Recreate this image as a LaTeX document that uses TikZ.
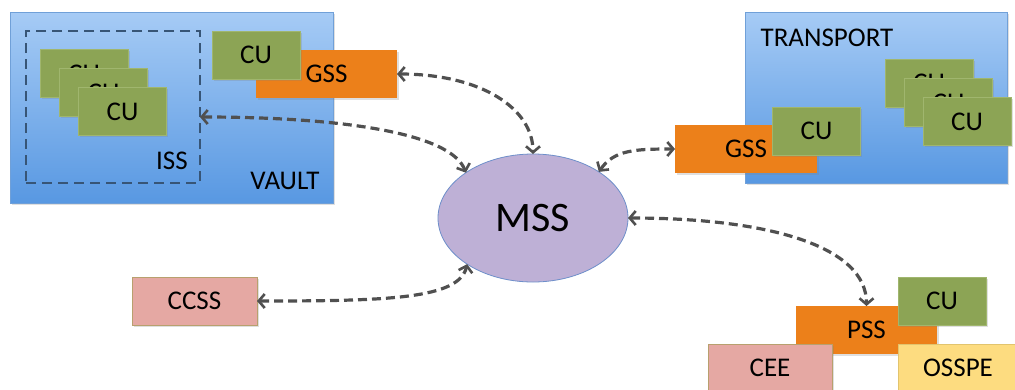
\documentclass[tikz,border=0pt]{standalone}
\usepackage{fontspec}
\setmainfont{Carlito}
\usetikzlibrary{arrows.meta,shapes.geometric,shadows,calc}
\definecolor{cugreen}{RGB}{140,164,85}
\definecolor{cuedge}{RGB}{160,182,110}
\definecolor{gssorange}{RGB}{236,128,26}
\definecolor{pinkfill}{RGB}{229,168,163}
\definecolor{pinkedge}{RGB}{184,160,110}
\definecolor{yellowfill}{RGB}{253,220,128}
\definecolor{yellowedge}{RGB}{226,196,110}
\definecolor{bluetop}{RGB}{166,203,245}
\definecolor{bluebot}{RGB}{88,152,226}
\definecolor{blueedge}{RGB}{112,160,216}
\definecolor{issdash}{RGB}{55,85,118}
\definecolor{mssfill}{RGB}{190,176,214}
\definecolor{mssedge}{RGB}{110,143,202}
\definecolor{arrowgray}{RGB}{80,80,80}
\tikzset{
  every node/.style={font=\fontsize{27}{32}\selectfont, inner sep=0pt, outer sep=0pt},
  shade/.style={drop shadow={shadow xshift=1.5pt,shadow yshift=-1.5pt,opacity=0.25}},
  bluebox/.style={rectangle, top color=bluetop, bottom color=bluebot, draw=blueedge, line width=0.6pt, shade},
  issbox/.style={rectangle, draw=issdash, line width=2.6pt, dash pattern=on 10pt off 6pt},
  cubox/.style={rectangle, fill=cugreen, draw=cuedge, line width=0.6pt, minimum width=88pt, minimum height=48pt, shade},
  gssbox/.style={rectangle, fill=gssorange, minimum height=48pt, shade},
  pinkbox/.style={rectangle, fill=pinkfill, draw=pinkedge, line width=0.6pt, minimum height=48pt, shade},
  yellowbox/.style={rectangle, fill=yellowfill, draw=yellowedge, line width=0.6pt, minimum height=48pt, shade},
  link/.style={draw=arrowgray, line width=3.2pt, dash pattern=on 9pt off 5pt,
    {Straight Barb[length=6pt,width=14pt,line width=2.6pt]}-{Straight Barb[length=6pt,width=14pt,line width=2.6pt]}},
}
\begin{document}
\begin{tikzpicture}[x=1pt,y=-1pt]
\clip (0,0) rectangle (1015,389);
\fill[white] (0,0) rectangle (1015,389);
% VAULT
\node[bluebox, minimum width=323pt, minimum height=191pt] (vault) at (171.5,107.5) {};
\node[issbox, minimum width=174pt, minimum height=152pt] (iss) at (113,107) {};
\node[cubox] (icu1) at (84,73.5) {CU};
\node[cubox] (icu2) at (103.5,92.5) {CU};
\node[cubox] (icu3) at (122.5,111.5) {CU};
\node (isslbl) at (172,161) {ISS};
\node (vaultlbl) at (285,181) {VAULT};
\node[gssbox, minimum width=141pt] (vgss) at (326.5,74) {GSS};
\node[cubox] (vcu) at (256,55) {CU};
% TRANSPORT
\node[bluebox, minimum width=262pt, minimum height=171pt] (transport) at (876,97.5) {};
\node (translbl) at (827,38) {TRANSPORT};
\node[cubox] (tcu1) at (929,83) {CU};
\node[cubox] (tcu2) at (948.5,102.5) {CU};
\node[cubox] (tcu3) at (967,121.5) {CU};
\node[gssbox, minimum width=142pt] (tgss) at (746,149) {\hspace*{0pt}GSS};
\node[cubox] (tcu) at (816.5,131) {CU};
% MSS
\node[ellipse, fill=mssfill, draw=mssedge, line width=0.8pt, minimum width=190pt, minimum height=128pt,
  font=\fontsize{42}{48}\selectfont] (mss) at (533,218) {MSS};
% PSS group
\node[gssbox, minimum width=141pt] (pss) at (866.5,330) {PSS};
\node[cubox] (pcu) at (942,301) {CU};
\node[pinkbox, minimum width=124pt] (cee) at (770,368) {CEE};
\node[yellowbox, minimum width=120pt] (osspe) at (958,368) {OSSPE};
% CCSS
\node[pinkbox, minimum width=125pt] (ccss) at (194.5,301) {CCSS};
% links
\draw[link] (vgss.east) .. controls +(85,0) and +(0,-45) .. (mss.north);
\draw[link] ($(iss.east)+(0,10)$) .. controls +(140,0) and +(-15,-40) .. (mss.146);
\draw[link] (mss.35) .. controls +(15,-22) and +(-40,0) .. (tgss.west);
\draw[link] (mss.east) .. controls +(140,0) and +(0,-60) .. (pss.north);
\draw[link] (ccss.east) .. controls +(130,0) and +(-8,35) .. (mss.215);
\end{tikzpicture}
\end{document}
